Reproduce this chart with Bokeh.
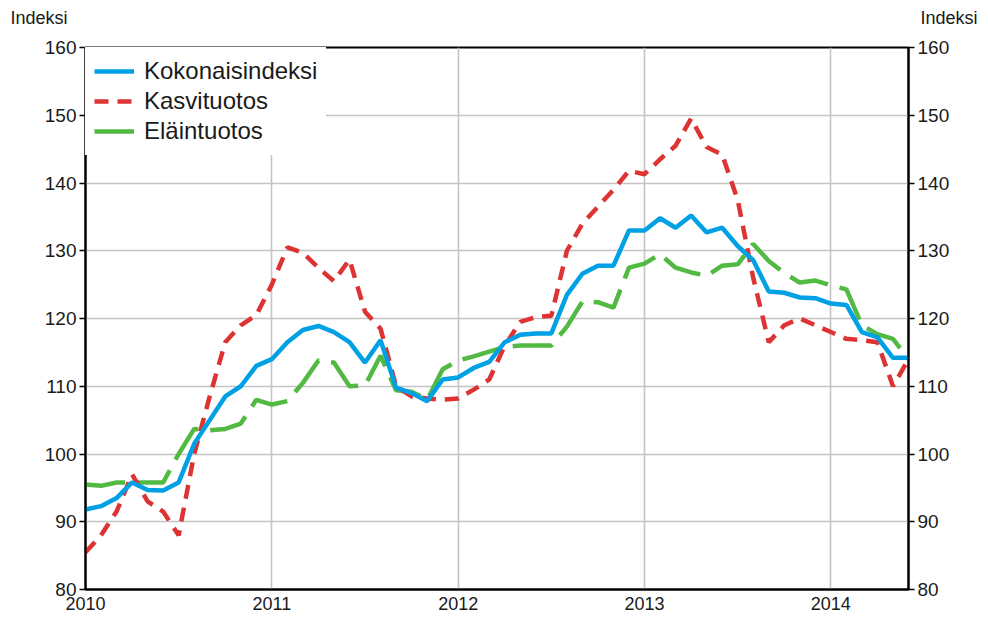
from bokeh.plotting import figure
from bokeh.models import (Range1d, FixedTicker, LinearAxis, Legend, LegendItem,
                          Label, ColumnDataSource)
from bokeh.embed import file_html
from bokeh.resources import INLINE

# ---- data (monthly, Jan 2010 .. Jun 2014) ----
year_labels = ["2010", "2011", "2012", "2013", "2014"]
months = list(range(54))

kokonaisindeksi = [91.8, 92.3, 93.5, 95.8, 94.7, 94.6, 95.8, 101.5, 105.0, 108.5, 110.0, 113.0,
                   114.0, 116.5, 118.3, 118.9, 118.0, 116.5, 113.5, 116.8, 109.8, 109.0, 107.8, 111.0,
                   111.3, 112.7, 113.6, 116.5, 117.6, 117.8, 117.8, 123.5, 126.6, 127.8, 127.8, 133.0,
                   133.0, 134.8, 133.4, 135.2, 132.7, 133.4, 130.7, 128.6, 124.0, 123.8, 123.1, 123.0,
                   122.2, 122.0, 118.0, 117.2, 114.2, 114.2]
kasvituotos = [85.5, 88.0, 91.5, 97.0, 93.0, 91.5, 88.0, 100.0, 108.5, 116.5, 119.0, 120.5,
               125.0, 130.5, 129.7, 127.5, 125.5, 128.7, 121.0, 118.5, 110.0, 108.5, 108.2, 108.0,
               108.2, 109.5, 111.0, 116.0, 119.5, 120.2, 120.4, 130.0, 134.0, 136.5, 139.0, 141.8,
               141.3, 143.5, 145.5, 149.5, 145.3, 144.2, 137.5, 126.0, 116.5, 119.0, 120.0, 119.0,
               118.0, 117.0, 116.8, 116.5, 110.0, 114.0]
elaintuotos = [95.5, 95.3, 95.8, 95.8, 95.8, 95.8, 100.0, 103.7, 103.5, 103.7, 104.5, 108.0,
               107.3, 107.8, 110.5, 113.8, 113.5, 110.0, 110.1, 114.5, 109.4, 109.2, 108.0, 112.5,
               113.8, 114.4, 115.1, 115.8, 116.0, 116.0, 116.0, 118.8, 122.5, 122.4, 121.6, 127.5,
               128.1, 129.5, 127.5, 126.8, 126.3, 127.8, 128.0, 131.0, 128.5, 126.7, 125.3, 125.6,
               124.9, 124.3, 119.0, 117.7, 117.0, 114.0]

series_names = ["Kokonaisindeksi", "Kasvituotos", "Eläintuotos"]
colors = ["#00A0E4", "#DD3333", "#52B943"]

FONT = "Liberation Sans"
TXT = "#1a1a1a"

src = ColumnDataSource(dict(x=months, k=kokonaisindeksi, v=kasvituotos, e=elaintuotos))

p = figure(width=985, height=614, output_backend="svg", toolbar_location=None,
           x_range=Range1d(0, 53), y_range=Range1d(80, 160),
           min_border_left=85, min_border_right=77, min_border_top=47, min_border_bottom=25,
           x_axis_location=None, y_axis_location=None)

p.outline_line_color = "black"
p.outline_line_width = 2
p.background_fill_color = "white"
p.border_fill_color = "white"

# grid
p.xgrid.ticker = FixedTicker(ticks=[0, 12, 24, 36, 48])
p.ygrid.ticker = FixedTicker(ticks=list(range(80, 161, 10)))
for g in (p.xgrid, p.ygrid):
    g.grid_line_color = "#c4c4c4"
    g.grid_line_width = 1.6

# axes
def style_y(ax):
    ax.ticker = FixedTicker(ticks=list(range(80, 161, 10)))
    ax.axis_line_color = "black"
    ax.axis_line_width = 2
    ax.major_tick_out = 6
    ax.major_tick_in = 0
    ax.major_tick_line_width = 1.5
    ax.major_tick_line_color = "black"
    ax.minor_tick_line_color = None
    ax.major_label_text_font = FONT
    ax.major_label_text_font_size = "19px"
    ax.major_label_text_color = TXT
    ax.major_label_standoff = 3

yl = LinearAxis()
style_y(yl)
p.add_layout(yl, "left")
yr = LinearAxis()
style_y(yr)
p.add_layout(yr, "right")

xb = LinearAxis()
xb.ticker = FixedTicker(ticks=[0, 12, 24, 36, 48])
xb.major_label_overrides = {12 * i: lab for i, lab in enumerate(year_labels)}
xb.axis_line_color = "black"
xb.axis_line_width = 2
xb.major_tick_out = 0
xb.major_tick_in = 0
xb.minor_tick_line_color = None
xb.major_label_text_font = FONT
xb.major_label_text_font_size = "18px"
xb.major_label_text_color = TXT
xb.major_label_standoff = 7
p.add_layout(xb, "below")

# lines
r_e = p.line("x", "e", source=src, line_color=colors[2], line_width=4.5, line_dash="40 12")
r_v = p.line("x", "v", source=src, line_color=colors[1], line_width=4.5, line_dash="14 9")
r_k = p.line("x", "k", source=src, line_color=colors[0], line_width=4.5)

legend = Legend(items=[LegendItem(label=series_names[0], renderers=[r_k]),
                       LegendItem(label=series_names[1], renderers=[r_v]),
                       LegendItem(label=series_names[2], renderers=[r_e])],
                location="top_left", margin=0, padding=9, spacing=0,
                glyph_width=40, glyph_height=30, label_height=30, label_standoff=10,
                label_text_font=FONT, label_text_font_size="24px", label_text_color=TXT,
                border_line_alpha=0, background_fill_color="white", background_fill_alpha=1)
p.add_layout(legend, "center")

# "Indeksi" captions above both axes (in the top side panel, screen units)
p.add_layout(Label(x=-75, y=20, x_units="screen", y_units="screen", text="Indeksi",
                   text_align="left", text_baseline="bottom",
                   text_font=FONT, text_font_size="18px", text_color=TXT), "above")
p.add_layout(Label(x=835, y=0, x_units="screen", y_units="screen", text="Indeksi",
                   text_align="left", text_baseline="bottom",
                   text_font=FONT, text_font_size="18px", text_color=TXT), "above")

open("out.html", "w").write(file_html(p, INLINE))
